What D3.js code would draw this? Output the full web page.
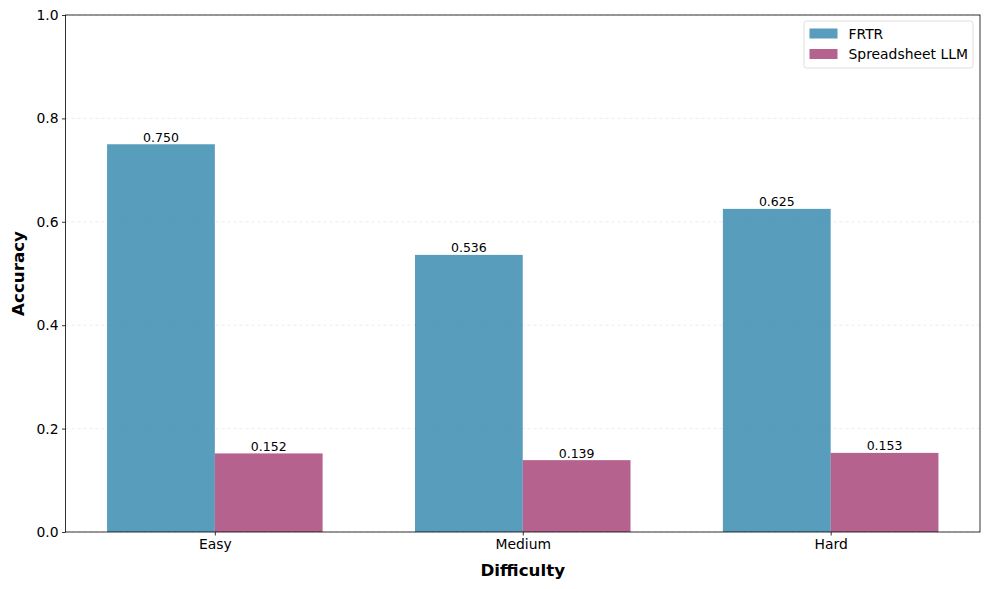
<!DOCTYPE html>
<html><head><meta charset="utf-8">
<script src="https://cdn.jsdelivr.net/npm/d3@7"></script>
<style>body{margin:0;background:#fff}svg{display:block;font-family:"DejaVu Sans",sans-serif}</style>
</head><body>
<script>
const categories = ["Easy", "Medium", "Hard"];
const seriesNames = ["FRTR", "Spreadsheet LLM"];
const frtr = [0.750, 0.536, 0.625];
const spreadsheetLLM = [0.152, 0.139, 0.153];
const yTicks = [0.0, 0.2, 0.4, 0.6, 0.8, 1.0];
const colors = ["rgba(46,134,171,0.8)", "rgba(162,59,114,0.8)"];

const W = 989, H = 589;
const m = {l: 65.5, r: 980, t: 15, b: 532};
const svg = d3.select("body").append("svg").attr("width", W).attr("height", H);

const barW = 0.35;
const x = d3.scaleLinear().domain([-0.485, 2.485]).range([m.l, m.r]);
const y = d3.scaleLinear().domain([0, 1]).range([m.b, m.t]);

// grid
svg.append("g").selectAll("line").data(yTicks).join("line")
  .attr("x1", m.l).attr("x2", m.r)
  .attr("y1", d => y(d)).attr("y2", d => y(d))
  .attr("stroke", "#b0b0b0").attr("stroke-opacity", 0.3)
  .attr("stroke-width", 0.8).attr("stroke-dasharray", "3,3");

const series = [frtr, spreadsheetLLM];
series.forEach((vals, si) => {
  const off = si === 0 ? -barW / 2 : barW / 2;
  const g = svg.append("g");
  g.selectAll("rect").data(vals).join("rect")
    .attr("x", (d, i) => x(i + off - barW / 2))
    .attr("width", (d, i) => x(i + off + barW / 2) - x(i + off - barW / 2))
    .attr("y", d => y(d)).attr("height", d => y(0) - y(d))
    .attr("fill", colors[si]);
  g.selectAll("text").data(vals).join("text")
    .attr("x", (d, i) => x(i + off)).attr("y", d => y(d) - 2.5)
    .attr("text-anchor", "middle").attr("font-size", "12.5px").attr("fill", "#000")
    .text(d => d.toFixed(3));
});

// axes
const xAxis = d3.axisBottom(x).tickValues(categories.map((c, i) => i))
  .tickFormat(i => categories[i]).tickSize(3.5).tickPadding(3.5);
const gx = svg.append("g").attr("transform", `translate(0,${m.b})`).call(xAxis);
const yAxis = d3.axisLeft(y).tickValues(yTicks).tickFormat(d3.format(".1f"))
  .tickSize(3.5).tickPadding(3.5);
const gy = svg.append("g").attr("transform", `translate(${m.l},0)`).call(yAxis);
[gx, gy].forEach(g => {
  g.select(".domain").remove();
  g.selectAll("text").attr("font-size", "13.9px").attr("fill", "#000")
    .attr("font-family", "DejaVu Sans");
  g.selectAll(".tick line").attr("stroke", "#000").attr("stroke-width", 0.8);
});

svg.append("rect").attr("x", m.l).attr("y", m.t)
  .attr("width", m.r - m.l).attr("height", m.b - m.t)
  .attr("fill", "none").attr("stroke", "#000").attr("stroke-width", 0.8);

// axis labels
svg.append("text").attr("x", (m.l + m.r) / 2).attr("y", 576)
  .attr("text-anchor", "middle").attr("font-size", "16.7px").attr("font-weight", "bold")
  .text("Difficulty");
svg.append("text").attr("transform", `translate(24,${(m.t + m.b) / 2}) rotate(-90)`)
  .attr("text-anchor", "middle").attr("font-size", "16.7px").attr("font-weight", "bold")
  .text("Accuracy");

// legend
const lg = svg.append("g").attr("transform", "translate(804,21)");
lg.append("rect").attr("width", 169).attr("height", 47).attr("rx", 2.5)
  .attr("fill", "#fff").attr("fill-opacity", 0.8).attr("stroke", "#d5d5d5").attr("stroke-width", 0.8);
seriesNames.forEach((n, i) => {
  lg.append("rect").attr("x", 5.5).attr("y", 7.5 + i * 20.5).attr("width", 28).attr("height", 10)
    .attr("fill", colors[i]);
  lg.append("text").attr("x", 44.5).attr("y", 17.5 + i * 20.5).attr("font-size", "13.9px")
    .text(n);
});
</script>
</body></html>
